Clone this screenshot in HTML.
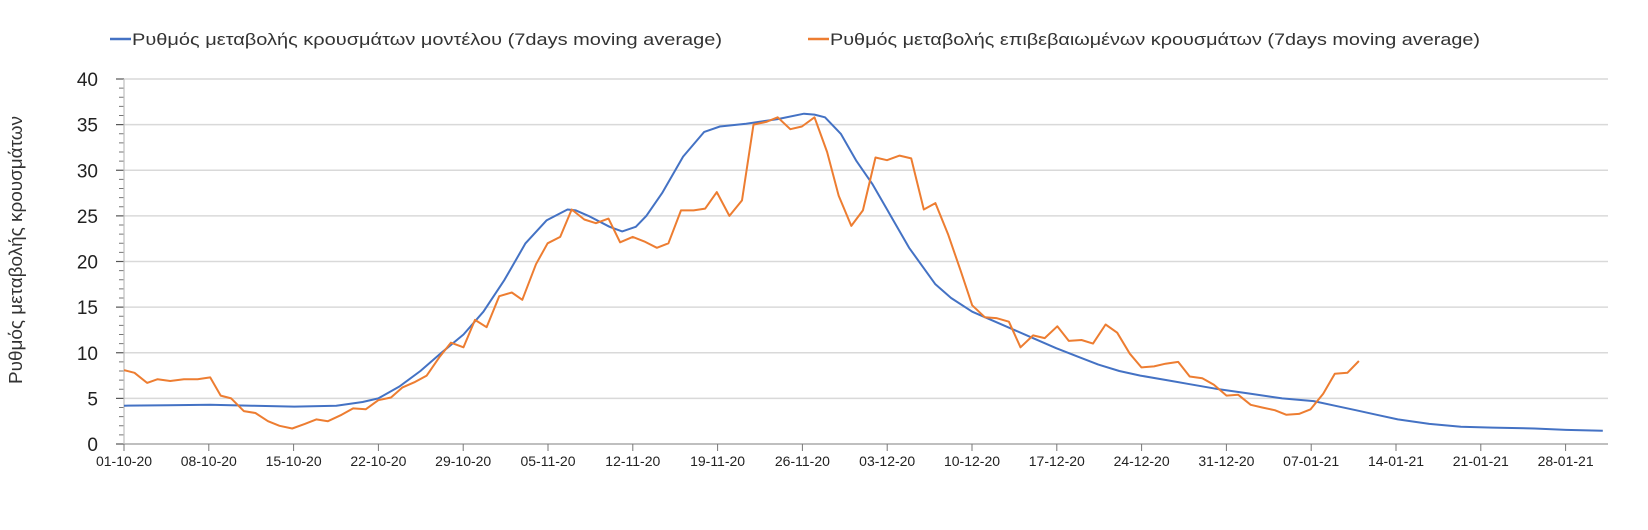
<!DOCTYPE html>
<html><head><meta charset="utf-8"><style>
html,body{margin:0;padding:0;background:#fff;}
svg{display:block;font-family:"Liberation Sans","DejaVu Sans",sans-serif;}
</style></head><body>
<svg id="c" width="1648" height="530" viewBox="0 0 1648 530" xmlns="http://www.w3.org/2000/svg">
<line x1="110" y1="39" x2="131" y2="39" stroke="#4472c4" stroke-width="2.5"/>
<text x="132" y="45" font-size="17" fill="#333" textLength="590" lengthAdjust="spacingAndGlyphs">Ρυθμός μεταβολής κρουσμάτων μοντέλου (7days moving average)</text>
<line x1="808" y1="39" x2="829" y2="39" stroke="#ed7d31" stroke-width="2.5"/>
<text x="830" y="45" font-size="17" fill="#333" textLength="650" lengthAdjust="spacingAndGlyphs">Ρυθμός μεταβολής επιβεβαιωμένων κρουσμάτων (7days moving average)</text>
<text transform="translate(22,250) rotate(-90)" text-anchor="middle" font-size="18" fill="#333" textLength="268" lengthAdjust="spacingAndGlyphs">Ρυθμός μεταβολής κρουσμάτων</text>
<g id="grid"></g>
<polyline id="blue" fill="none" stroke="#4472c4" stroke-width="2" stroke-linejoin="round"/>
<polyline id="orange" fill="none" stroke="#ed7d31" stroke-width="2" stroke-linejoin="round"/>
</svg>
<script>
var NS="http://www.w3.org/2000/svg",g=document.getElementById('grid');
function el(t,a,txt){var e=document.createElementNS(NS,t);for(var k in a)e.setAttribute(k,a[k]);if(txt!=null)e.textContent=txt;g.appendChild(e);return e;}
var X0=124,X1=1608,Y0=444,U=9.125;
for(var v=0;v<=40;v++){var y=Y0-v*U;
 if(v%5==0){ if(v>0)el('line',{x1:X0,y1:y,x2:X1,y2:y,stroke:'#d9d9d9','stroke-width':1.5});
  el('line',{x1:X0-8,y1:y,x2:X0,y2:y,stroke:'#555','stroke-width':1.2});
  el('text',{x:X0-26,y:y+7,'font-size':19,'text-anchor':'end',fill:'#222'},String(v));}
 else el('line',{x1:X0-5,y1:y,x2:X0,y2:y,stroke:'#777','stroke-width':1});}
el('line',{x1:X0,y1:Y0-40*U,x2:X0,y2:Y0,stroke:'#bfbfbf','stroke-width':1.2});
el('line',{x1:X0,y1:Y0,x2:X1,y2:Y0,stroke:'#bfbfbf','stroke-width':2});
var labs=["01-10-20","08-10-20","15-10-20","22-10-20","29-10-20","05-11-20","12-11-20","19-11-20","26-11-20","03-12-20","10-12-20","17-12-20","24-12-20","31-12-20","07-01-21","14-01-21","21-01-21","28-01-21"];
for(var i=0;i<labs.length;i++){var x=X0+i*84.8;
 el('line',{x1:x,y1:Y0,x2:x,y2:Y0+7,stroke:'#777','stroke-width':1});
 el('text',{x:x,y:466,'font-size':14,'text-anchor':'middle',fill:'#222'},labs[i]);}
function tx(vx){return X0+(vx-118)*1.051;}
var blue=[[118,4.2],[160,4.25],[200,4.3],[240,4.2],[280,4.1],[320,4.2],[345,4.6],[360,5.0],[380,6.3],[400,8],[420,10],[441,12],[460,14.5],[480,18],[500,22],[520,24.5],[540,25.7],[548,25.6],[560,25],[580,23.8],[592,23.3],[605,23.8],[615,25],[630,27.5],[650,31.5],[670,34.2],[685,34.8],[710,35.1],[740,35.6],[765,36.2],[775,36.1],[785,35.8],[800,34],[815,31],[830,28.5],[845,25.5],[865,21.5],[890,17.5],[905,16],[925,14.5],[945,13.5],[965,12.5],[985,11.5],[1005,10.5],[1025,9.6],[1045,8.7],[1065,8],[1085,7.5],[1110,7],[1130,6.6],[1160,6],[1190,5.5],[1220,5],[1250,4.7],[1270,4.2],[1290,3.7],[1310,3.2],[1330,2.7],[1360,2.2],[1390,1.9],[1420,1.8],[1460,1.7],[1490,1.55],[1525,1.45]];
var orange=[[118,8.1],[128,7.8],[140,6.7],[150,7.1],[162,6.9],[175,7.1],[188,7.1],[200,7.3],[210,5.3],[220,5.0],[232,3.6],[243,3.4],[255,2.5],[266,2.0],[278,1.7],[290,2.2],[301,2.7],[312,2.5],[325,3.2],[336,3.9],[348,3.8],[360,4.8],[372,5.1],[383,6.2],[395,6.8],[406,7.5],[418,9.5],[429,11.1],[441,10.6],[452,13.6],[463,12.8],[475,16.2],[487,16.6],[497,15.8],[510,19.7],[521,22],[533,22.7],[544,25.7],[556,24.6],[567,24.2],[579,24.7],[590,22.1],[602,22.7],[613,22.2],[625,21.5],[636,22.0],[648,25.6],[660,25.6],[671,25.8],[682,27.6],[694,25.0],[706,26.7],[717,35.0],[729,35.3],[740,35.8],[752,34.5],[763,34.8],[775,35.8],[787,32.0],[798,27.2],[810,23.9],[821,25.6],[833,31.4],[844,31.1],[856,31.6],[867,31.3],[879,25.7],[890,26.4],[902,23.0],[914,19.0],[925,15.2],[937,13.9],[948,13.8],[960,13.4],[971,10.6],[983,11.9],[994,11.6],[1006,12.9],[1017,11.3],[1029,11.4],[1040,11.0],[1052,13.1],[1063,12.2],[1075,9.9],[1086,8.4],[1098,8.5],[1109,8.8],[1121,9.0],[1132,7.4],[1144,7.2],[1155,6.5],[1167,5.3],[1178,5.4],[1190,4.3],[1201,4.0],[1213,3.7],[1224,3.2],[1236,3.3],[1247,3.8],[1259,5.5],[1270,7.7],[1282,7.8],[1293,9.1]];
function pts(a){return a.map(function(p){return tx(p[0]).toFixed(1)+','+(Y0-p[1]*U).toFixed(1);}).join(' ');}
document.getElementById('blue').setAttribute('points',pts(blue));
document.getElementById('orange').setAttribute('points',pts(orange));
</script>
</body></html>
